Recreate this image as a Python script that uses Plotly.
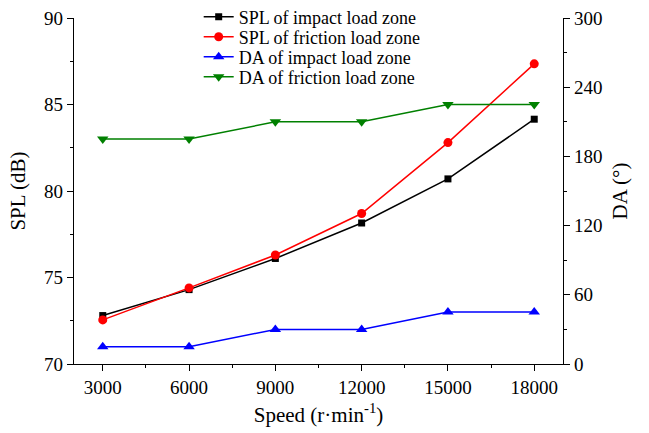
import plotly.graph_objects as go

# Rotational speed (r/min)
speed = [3000, 6000, 9000, 12000, 15000, 18000]

# Sound pressure level (dB)
spl_impact = [72.8, 74.3, 76.1, 78.15, 80.7, 84.15]
spl_friction = [72.55, 74.4, 76.3, 78.7, 82.8, 87.35]

# Distribution angle (degrees)
da_impact = [15, 15, 30, 30, 45, 45]
da_friction = [195, 195, 210, 210, 225, 225]

FONT = "Liberation Serif, Times New Roman, serif"

series = [
    ("SPL of impact load zone", spl_impact, "y", "black", "square", 7, "legend"),
    ("SPL of friction load zone", spl_friction, "y", "#FF0000", "circle", 9, "legend2"),
    ("DA of impact load zone", da_impact, "y2", "#0000FF", "triangle-up", 10, "legend3"),
    ("DA of friction load zone", da_friction, "y2", "#008000", "triangle-down", 10, "legend4"),
]

fig = go.Figure()
for name, vals, yax, color, symbol, size, leg in series:
    fig.add_trace(go.Scatter(x=speed, y=vals, name=name, yaxis=yax, legend=leg,
                             mode="lines+markers", line=dict(color=color, width=1.5),
                             marker=dict(symbol=symbol, size=size, color=color)))

axis_common = dict(showgrid=False, zeroline=False, showline=True, linecolor="black",
                   linewidth=1.3, ticks="outside", ticklen=6, tickcolor="black",
                   tickwidth=1.3, tickfont=dict(family=FONT, size=19, color="black"))

# One single-entry legend per series so the entries sit on a tight 20 px pitch
legend_rows = [1.003, 0.945, 0.887, 0.829]
legend_layout = {}
for key, ypos in zip(["legend", "legend2", "legend3", "legend4"], legend_rows):
    legend_layout[key] = dict(x=0.255, y=ypos, xanchor="left", yanchor="middle",
                              bgcolor="rgba(0,0,0,0)", font=dict(family=FONT, size=18))

fig.update_layout(
    width=649, height=433,
    margin=dict(l=74, r=86, t=18, b=69, autoexpand=False),
    plot_bgcolor="white", paper_bgcolor="white",
    font=dict(family=FONT, color="black"),
    xaxis=dict(range=[2000, 19000], tickvals=speed, ticktext=[str(s) for s in speed],
               minor=dict(ticks="outside", ticklen=3, tickcolor="black",
                          tickvals=[4500, 7500, 10500, 13500, 16500]),
               title=dict(text="Speed (r·min<sup>-1</sup>)", font=dict(family=FONT, size=21),
                          standoff=10),
               **axis_common),
    yaxis=dict(range=[70, 90], dtick=5, tick0=70,
               minor=dict(ticks="outside", ticklen=3, tickcolor="black", dtick=2.5),
               title=dict(text="SPL (dB)", font=dict(family=FONT, size=21), standoff=12),
               **axis_common),
    yaxis2=dict(range=[0, 300], dtick=60, tick0=0, overlaying="y", side="right",
                minor=dict(ticks="outside", ticklen=3, tickcolor="black", dtick=30),
                title=dict(text="DA (°)", font=dict(family=FONT, size=21), standoff=10),
                **axis_common),
    showlegend=True,
    **legend_layout,
)

fig.write_html("out.html")
